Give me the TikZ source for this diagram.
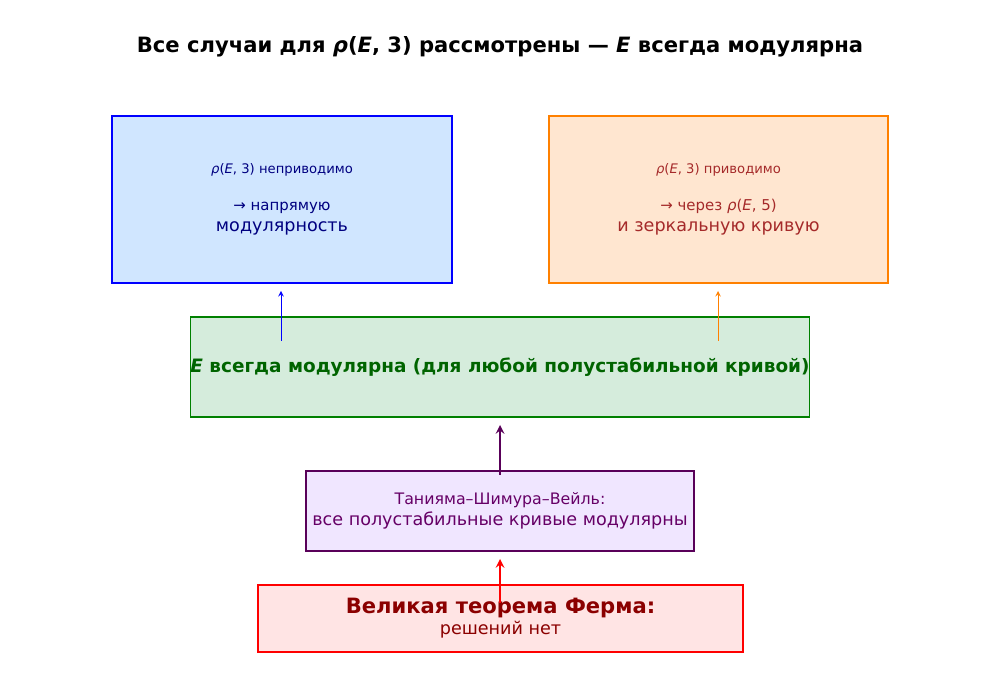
\documentclass[tikz,border=0pt]{standalone}
\usepackage{fontspec}
\setmainfont{DejaVu Sans}
\usetikzlibrary{positioning}
\definecolor{bluefill}{HTML}{D0E6FF}
\definecolor{orangefill}{HTML}{FFE6D0}
\definecolor{greenfill}{HTML}{D5ECDC}
\definecolor{purplefill}{HTML}{F0E6FF}
\definecolor{redfill}{HTML}{FFE4E4}
\definecolor{darkbrown}{HTML}{A52A2A}
\definecolor{darkgreentext}{HTML}{006400}
\definecolor{darkredtext}{HTML}{8B0000}
\tikzset{
  box/.style={draw, rectangle, thick, align=center, inner sep=0pt},
  link/.style={->, >=stealth}
}
\newcommand{\rh}{\textit{ρ}}
\newcommand{\ee}{\textit{E}}
\begin{document}
\begin{tikzpicture}
  \useasboundingbox (0,0) rectangle (20,14);
  \node (title) at (10,13.06) {\fontsize{12}{14}\selectfont\bfseries Все случаи для \rh(\ee, 3) рассмотрены — \ee\ всегда модулярна};

  \node (irred) [box, draw=blue, fill=bluefill, text=blue!50!black, minimum width=6.8cm, minimum height=3.34cm] at (5.64,10.01)
    {{\fontsize{7.5}{9}\selectfont \rh(\ee, 3) неприводимо}\\[9pt]\fontsize{8.5}{10.5}\selectfont → напрямую\\ модулярность};
  \node (red) [box, draw=orange, fill=orangefill, text=darkbrown, minimum width=6.78cm, minimum height=3.34cm] at (14.37,10.01)
    {{\fontsize{7.5}{9}\selectfont \rh(\ee, 3) приводимо}\\[9pt]\fontsize{8.5}{10.5}\selectfont → через \rh(\ee, 5)\\ и зеркальную кривую};
  \node (modular) [box, draw=green!50!black, fill=greenfill, text=darkgreentext, minimum width=11.64cm, minimum height=2cm] at (10,6.66)
    {\fontsize{10.5}{12}\selectfont\bfseries \ee\ всегда модулярна (для любой полустабильной кривой)};
  \node (tsw) [box, draw=violet!70!black, fill=purplefill, text=violet!80!black, minimum width=7.76cm, minimum height=1.6cm] at (10,3.78)
    {\fontsize{9}{11}\selectfont Таниямa–Шимура–Вейль:\\ все полустабильные кривые модулярны};
  \node (flt) [box, draw=red, fill=redfill, text=darkredtext, minimum width=9.7cm, minimum height=1.34cm] at (10.01,1.63)
    {\fontsize{12}{13.5}\selectfont\bfseries Великая теорема Ферма:\\ решений нет};

  \coordinate (b1) at (5.62,7.18);  \coordinate (b2) at (5.62,8.18);
  \coordinate (o1) at (14.36,7.18); \coordinate (o2) at (14.36,8.18);
  \coordinate (p1) at (10,4.5);     \coordinate (p2) at (10,5.5);
  \coordinate (r1) at (10,1.94);    \coordinate (r2) at (10,2.82);

  \draw[link, blue, thin] (b1) -- (b2);
  \draw[link, orange, thin] (o1) -- (o2);
  \draw[link, violet!70!black, very thick] (p1) -- (p2);
  \draw[link, red, very thick] (r1) -- (r2);
\end{tikzpicture}
\end{document}
